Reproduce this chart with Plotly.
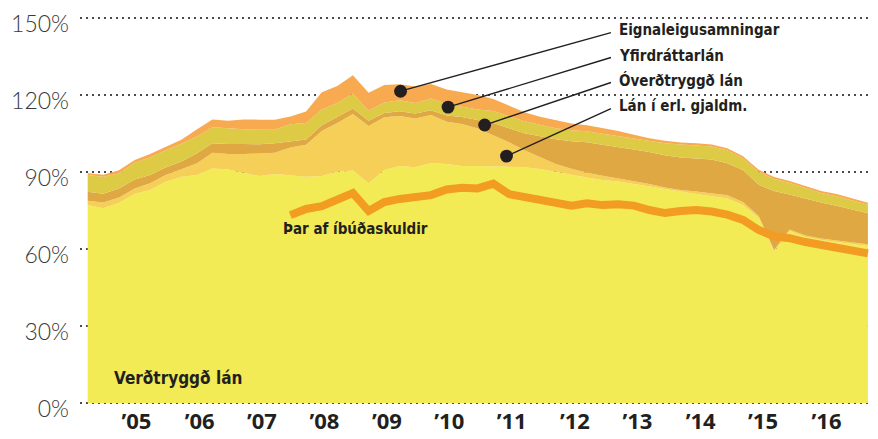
import plotly.graph_objects as go
import pandas as pd

# Quarter-end dates, 2004 Q1 .. 2016 Q3
quarters = pd.date_range("2004-03-31", periods=51, freq="QE")

# Layer values, % (stacked bottom to top)
verdtryggd = [77.1, 75.9, 78.0, 81.4, 83.0, 86.2, 88.2, 88.8, 91.4, 91.0,
              89.7, 88.4, 89.2, 88.8, 88.2, 88.4, 90.1, 90.6, 85.6, 90.8,
              92.3, 91.9, 93.5, 93.1, 92.3, 92.3, 92.1, 91.9, 91.9, 91.2,
              90.0, 88.8, 87.9, 86.9, 86.3, 85.3, 84.3, 83.2, 82.2, 81.4,
              80.6, 79.7, 77.1, 72.1, 59.0, 67.0, 64.7, 63.5, 62.7, 62.1,
              61.2]
lan_erl = [1.7, 2.2, 2.1, 2.2, 2.6, 2.6, 2.9, 4.6, 6.1, 6.0,
           7.3, 8.8, 8.3, 10.8, 12.4, 17.6, 19.0, 22.0, 22.3, 20.5,
           19.5, 19.0, 18.7, 16.5, 16.4, 14.7, 12.3, 9.7, 6.6, 4.7,
           3.1, 2.5, 1.8, 1.6, 1.2, 1.2, 1.0, 0.8, 0.8, 1.0,
           1.2, 1.2, 1.2, 0.8, 0.6, 0.6, 0.6, 0.6, 0.6, 0.6,
           0.6]
overdtryggd = [3.5, 3.4, 3.5, 3.5, 3.2, 3.0, 3.0, 3.9, 3.7, 3.9,
               3.9, 3.6, 3.7, 2.2, 2.1, 2.2, 2.3, 2.2, 2.1, 1.7,
               1.9, 1.9, 1.9, 2.4, 2.7, 3.2, 4.7, 5.5, 6.6, 8.0,
               9.7, 10.7, 11.9, 12.1, 12.3, 12.3, 12.5, 12.5, 12.7, 12.9,
               13.1, 12.5, 12.5, 12.1, 23.0, 13.6, 14.2, 14.0, 13.6, 12.7,
               12.1]
yfirdrattarlan = [6.5, 6.7, 5.8, 6.5, 6.9, 6.7, 6.9, 6.5, 6.2, 6.1,
                  5.8, 5.7, 5.3, 6.8, 6.4, 6.2, 5.5, 5.8, 3.9, 4.1,
                  4.3, 4.1, 4.6, 4.5, 4.0, 4.2, 4.7, 4.7, 4.7, 4.5,
                  4.3, 4.3, 4.3, 4.3, 4.1, 4.3, 4.3, 4.7, 5.0, 5.1,
                  5.0, 5.1, 4.5, 5.1, 4.7, 4.5, 4.3, 3.7, 3.7, 3.5,
                  3.3]
eignaleiga = [0.7, 0.7, 1.3, 1.1, 1.3, 1.3, 1.6, 2.9, 3.1, 3.0,
              3.8, 3.9, 3.9, 3.0, 4.5, 6.7, 6.6, 7.1, 7.0, 6.8,
              6.2, 6.4, 5.6, 5.7, 5.8, 5.6, 4.7, 4.1, 3.5, 3.1,
              3.1, 2.6, 2.3, 2.2, 2.1, 1.4, 1.1, 1.0, 0.8, 0.8,
              0.8, 0.8, 0.8, 0.8, 0.8, 0.8, 0.8, 0.8, 0.8, 0.8,
              0.8]
# Of which housing debt, % (starts 2007 Q2)
ibudaskuldir = [None] * 13 + [
    73.2, 75.6, 76.7, 79.3, 81.8, 74.8, 78.3, 79.5, 79.9, 81.0,
    83.2, 83.9, 83.6, 85.5, 81.4, 80.4, 78.9, 78.4, 76.9, 77.8,
    77.1, 77.4, 76.9, 75.2, 74.0, 74.8, 75.2, 74.6, 73.4, 71.3,
    67.4, 64.9, 64.2, 62.7, 61.4, 60.6, 59.4, 58.3]

year_ticks = ["2005-01-10", "2006-01-15", "2007-01-15", "2008-01-15",
              "2009-01-15", "2010-01-15", "2011-01-15", "2012-01-20",
              "2013-01-20", "2014-01-25", "2015-01-25", "2016-02-01"]
year_labels = ["’05", "’06", "’07", "’08", "’09", "’10",
               "’11", "’12", "’13", "’14", "’15", "’16"]
y_ticks = [0, 30, 60, 90, 120, 150]
y_labels = ["0%", "30%", "60%", "90%", "120%", "150%"]

layers = [
    ("Verðtryggð lán", verdtryggd, "#F2EB55"),
    ("Lán í erl. gjaldm.", lan_erl, "#F5CF57"),
    ("Óverðtryggð lán", overdtryggd, "#E0A843"),
    ("Yfirdráttarlán", yfirdrattarlan, "#DDCA45"),
    ("Eignaleigusamningar", eignaleiga, "#F7AA50"),
]

fig = go.Figure()
for name, vals, col in layers:
    fig.add_trace(go.Scatter(
        x=quarters, y=vals, name=name, stackgroup="one",
        mode="lines", line=dict(width=0, color=col),
        fillcolor=col, hoverinfo="skip"))

fig.add_trace(go.Scatter(
    x=quarters, y=ibudaskuldir, name="Þar af íbúðaskuldir",
    mode="lines", line=dict(width=8, color="#F29C23"),
    connectgaps=False))

label_font = dict(family="DejaVu Sans Condensed, DejaVu Sans",
                  size=15, color="#231F20", weight="bold")

# Callout labels (text) and leader lines with dots
callouts = [
    ("Eignaleigusamningar", "2009-04-05", 121.5, 144.5, 145.3),
    ("Yfirdráttarlán", "2010-01-08", 115.3, 134.8, 135.2),
    ("Óverðtryggð lán", "2010-08-10", 108.3, 125.1, 125.8),
    ("Lán í erl. gjaldm.", "2010-12-16", 96.2, 115.0, 115.7),
]
tail_x = "2012-08-27"
text_x = "2012-09-22"
for txt, hx, hy, ty, texty in callouts:
    fig.add_annotation(x=hx, y=hy, ax=tail_x, ay=ty, xref="x", yref="y",
                       axref="x", ayref="y", text="", showarrow=True,
                       arrowhead=6, arrowsize=2.3, arrowwidth=1.4,
                       arrowcolor="#231F20", standoff=0, startstandoff=0)
    fig.add_annotation(x=text_x, y=texty, xref="x", yref="y", text=txt,
                       showarrow=False, xanchor="left", yanchor="middle",
                       font=label_font)

fig.add_annotation(x="2007-05-05", y=67.8, xref="x", yref="y",
                   text="Þar af íbúðaskuldir", showarrow=False,
                   xanchor="left", yanchor="middle", font=label_font)
fig.add_annotation(x="2004-08-20", y=9.9, xref="x", yref="y",
                   text="Verðtryggð lán", showarrow=False,
                   xanchor="left", yanchor="middle",
                   font=dict(label_font, size=17))

fig.update_layout(
    width=870, height=431,
    margin=dict(l=72, r=0, t=7, b=32.8),
    paper_bgcolor="white", plot_bgcolor="white",
    showlegend=False,
    xaxis=dict(
        type="date", range=["2004-02-15", "2016-11-28"],
        tickvals=year_ticks, ticktext=year_labels,
        showgrid=False, zeroline=False, showline=False, ticks="",
        tickfont=dict(family="Open Sans", size=22, color="#231F20",
                      weight="bold"),
        automargin=False,
    ),
    yaxis=dict(
        range=[-1.2, 151.2], tickvals=y_ticks, ticktext=y_labels,
        showgrid=True, gridcolor="#4a4a4a", gridwidth=2,
        griddash="2px,4px", zeroline=False, showline=False, ticks="",
        tickfont=dict(family="Lato", size=23, color="#3a3a3a",
                      weight=300),
        ticklabelstandoff=10, ticklabelshift=6,
        automargin=False,
    ),
)

fig.write_html("out.html")
